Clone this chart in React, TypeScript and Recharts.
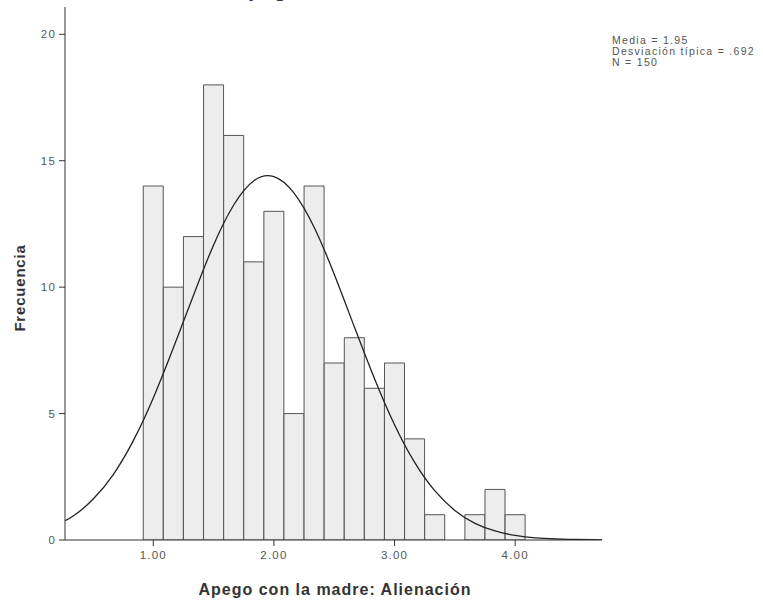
import { ComposedChart, Bar, Line, XAxis, YAxis } from "recharts";

// bin centres of the histogram (width 1/6) and counts
const binCenters = [
  1.0, 1.1667, 1.3333, 1.5, 1.6667, 1.8333, 2.0, 2.1667, 2.3333, 2.5, 2.6667,
  2.8333, 3.0, 3.1667, 3.3333, 3.5, 3.6667, 3.8333, 4.0,
];
const frequencies = [14, 10, 12, 18, 16, 11, 13, 5, 14, 7, 8, 6, 7, 4, 1, 0, 1, 2, 1];

// normal curve, read at the same 1/6 spacing
const curveX = [
  0.1667, 0.3333, 0.5, 0.6667, 0.8333, 1.0, 1.1667, 1.3333, 1.5, 1.6667, 1.8333,
  2.0, 2.1667, 2.3333, 2.5, 2.6667, 2.8333, 3.0, 3.1667, 3.3333, 3.5, 3.6667,
  3.8333, 4.0, 4.1667, 4.3333, 4.5, 4.6667, 4.8333,
];
const curveY = [
  0.52, 0.94, 1.61, 2.58, 3.92, 5.62, 7.6, 9.68, 11.67, 13.25, 14.21, 14.37,
  13.72, 12.37, 10.51, 8.43, 6.39, 4.56, 3.07, 1.95, 1.17, 0.66, 0.36, 0.18,
  0.08, 0.04, 0.02, 0.01, 0.0,
];

const xTicks = [1, 2, 3, 4];
const yTicks = [0, 5, 10, 15, 20];
const X_DOMAIN: [number, number] = [0.268, 4.72];
const Y_DOMAIN: [number, number] = [0, 21.08];

const TITLE = "Apego con la madre: Alienación";
const statsLines = ["Media = 1.95", "Desviación típica = .692", "N = 150"];

const FONT = "'Liberation Sans', Arial, sans-serif";

const chartData = curveX.map((x, i) => {
  const b = binCenters.indexOf(x);
  return { x, curve: curveY[i], freq: b >= 0 ? frequencies[b] : null };
});

function YTitle() {
  return (
    <text
      x={25}
      y={288}
      transform="rotate(-90 25 288)"
      textAnchor="middle"
      fontFamily={FONT}
      fontSize={15}
      fontWeight="bold"
      letterSpacing={0.8}
      fill="#333"
    >
      Frecuencia
    </text>
  );
}

function XTitle() {
  return (
    <text
      x={335}
      y={595}
      textAnchor="middle"
      fontFamily={FONT}
      fontSize={16}
      fontWeight="bold"
      letterSpacing={1}
      fill="#333"
    >
      {TITLE}
    </text>
  );
}

const tickStyle = { fill: "#555", fontSize: 11.5, fontFamily: FONT, letterSpacing: 1.2 };

export default function App() {
  return (
    <div style={{ position: "absolute", left: 0, top: 0, width: 763, height: 601, background: "#fff" }}>
      {/* chart title, almost entirely above the page edge as in the scan */}
      <svg width={763} height={10} style={{ position: "absolute", left: 0, top: 0 }}>
        <text x={232} y={-4} fontFamily={FONT} fontSize={22} fontWeight="bold" fill="#333">
          {TITLE}
        </text>
      </svg>
      <ComposedChart
        width={763}
        height={601}
        data={chartData}
        margin={{ top: 7, right: 161, bottom: 6, left: 25 }}
      >
        <XAxis
          dataKey="x"
          type="number"
          domain={X_DOMAIN}
          allowDataOverflow
          ticks={xTicks}
          tickFormatter={(v: number) => v.toFixed(2)}
          height={55}
          tickSize={6}
          tickMargin={5}
          tick={tickStyle}
          stroke="#333"
          label={<XTitle />}
        />
        <XAxis
          xAxisId="top"
          orientation="top"
          type="number"
          domain={X_DOMAIN}
          allowDataOverflow
          height={0}
          tick={false}
          tickLine={false}
          axisLine={{ stroke: "#999", strokeDasharray: "1 1" }}
        />
        <YAxis
          type="number"
          domain={Y_DOMAIN}
          allowDataOverflow
          ticks={yTicks}
          width={40}
          tickSize={6}
          tickMargin={3}
          tick={tickStyle}
          stroke="#333"
          label={<YTitle />}
        />
        <YAxis
          yAxisId="right"
          orientation="right"
          type="number"
          domain={Y_DOMAIN}
          allowDataOverflow
          width={0}
          tick={false}
          tickLine={false}
          axisLine={{ stroke: "#999", strokeDasharray: "1 1" }}
        />
        <Bar
          dataKey="freq"
          barSize={20}
          fill="#ededed"
          stroke="#555"
          strokeWidth={1}
          isAnimationActive={false}
        />
        <Line
          dataKey="curve"
          type="natural"
          stroke="#222"
          strokeWidth={1.3}
          dot={false}
          activeDot={false}
          isAnimationActive={false}
        />
      </ComposedChart>
      <div
        style={{
          position: "absolute",
          left: 612,
          top: 35,
          fontFamily: FONT,
          fontSize: 10.5,
          lineHeight: "11px",
          letterSpacing: 1.3,
          color: "#555",
          whiteSpace: "nowrap",
        }}
      >
        {statsLines.map((s) => (
          <div key={s}>{s}</div>
        ))}
      </div>
    </div>
  );
}
